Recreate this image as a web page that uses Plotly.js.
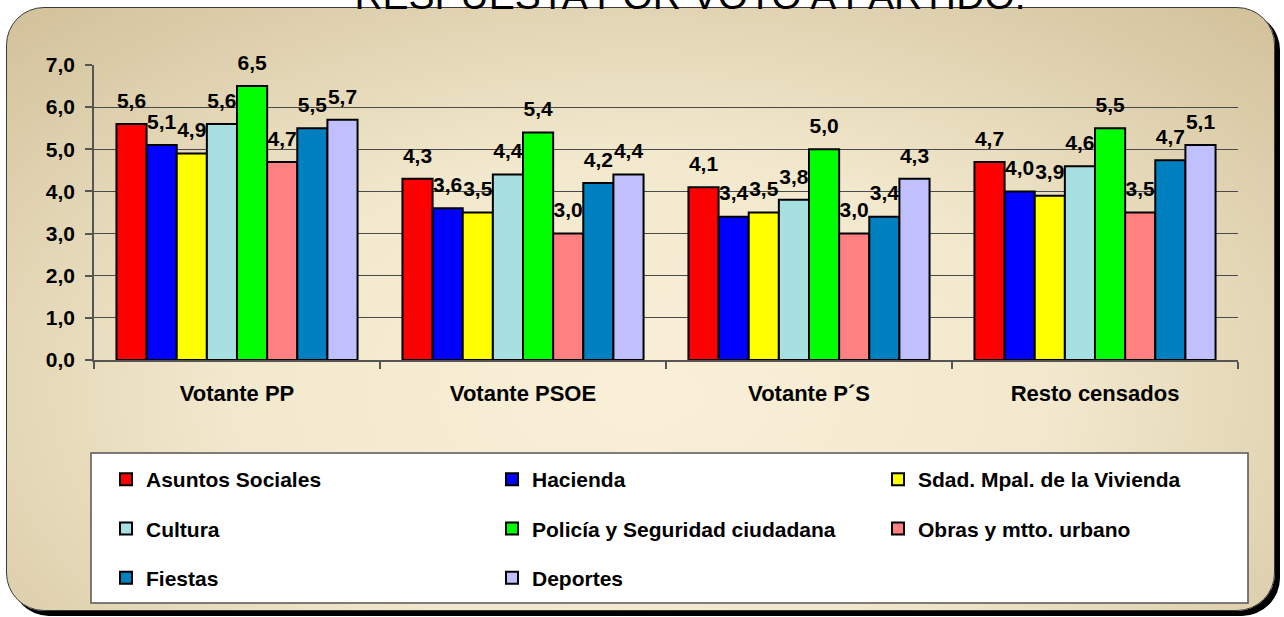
<!DOCTYPE html>
<html>
<head>
<meta charset="utf-8">
<script src="https://cdn.plot.ly/plotly-3.0.1.min.js"></script>
<style>
  html, body { margin:0; padding:0; background:#ffffff; width:1284px; height:617px; overflow:hidden; }
  #frame {
    position:absolute; left:6px; top:7px; width:1267px; height:602px;
    border:1px solid #3a3a3a; border-radius:38px;
    background: radial-gradient(ellipse 72% 88% at 50% 64%, #faf0d8 0%, #f2e8cd 45%, #d2c19a 100%);
    box-shadow: 5px 5px 0 #000;
  }
  #chart { position:absolute; left:0; top:0; width:1284px; height:617px; }
</style>
</head>
<body>
<div id="frame"></div>
<div id="chart"></div>
<script>
// ---- data ----
const categories = ["Votante PP", "Votante PSOE", "Votante P´S", "Resto censados"];
const seriesNames = ["Asuntos Sociales", "Hacienda", "Sdad. Mpal. de la Vivienda", "Cultura",
  "Policía y Seguridad ciudadana", "Obras y mtto. urbano", "Fiestas", "Deportes"];
const asuntosSociales = [5.6, 4.3, 4.1, 4.7];
const hacienda        = [5.1, 3.6, 3.4, 4.0];
const sdadVivienda    = [4.9, 3.5, 3.5, 3.9];
const cultura         = [5.6, 4.4, 3.8, 4.6];
const policia         = [6.5, 5.4, 5.0, 5.5];
const obras           = [4.7, 3.0, 3.0, 3.5];
const fiestas         = [5.5, 4.2, 3.4, 4.74];
const deportes        = [5.7, 4.4, 4.3, 5.1];
const yTicks = [0, 1, 2, 3, 4, 5, 6, 7];

const seriesValues = [asuntosSociales, hacienda, sdadVivienda, cultura, policia, obras, fiestas, deportes];
const colors = ["#ff0000", "#0000ff", "#ffff00", "#a6e0e0", "#00ff00", "#ff8080", "#0080c0", "#c0c0ff"];
// legend column each series belongs to (column-major layout as in the reference)
const legendCol = ["legend", "legend2", "legend3", "legend", "legend2", "legend3", "legend", "legend2"];

// ---- geometry helpers (pixels -> paper) ----
const W = 1284, H = 617;
const L = 94, R = 1238, T = 65, B = 360;
const px = x => (x - L) / (R - L);
const py = y => (B - y) / (B - T);

const font = "Arial, 'Liberation Sans', sans-serif";

const barTraces = seriesValues.map((vals, i) => ({
  type: "bar",
  name: seriesNames[i],
  x: categories,
  y: vals,
  marker: { color: colors[i], line: { color: "#000000", width: 2 } },
  legend: legendCol[i],
  legendgroup: "g" + i,
  hoverinfo: "x+y+name"
}));

// value labels: grouped scatter text sitting above each bar
const labelTraces = seriesValues.map((vals, i) => ({
  type: "scatter",
  mode: "markers+text",
  x: categories,
  y: vals,
  marker: { size: 16, opacity: 0, color: colors[i] },
  texttemplate: "%{y:.1f}",
  textposition: "top center",
  textfont: { family: font, size: 21, color: "#000000", weight: "bold" },
  cliponaxis: false,
  showlegend: false,
  legendgroup: "g" + i,
  hoverinfo: "skip"
}));

const legendBase = {
  font: { family: font, size: 21, color: "#000000", weight: "bold" },
  bgcolor: "rgba(0,0,0,0)",
  borderwidth: 0,
  xanchor: "left",
  yanchor: "top",
  xref: "paper",
  yref: "paper",
  tracegroupgap: 19,
  itemclick: false,
  itemdoubleclick: false
};

const layout = {
  width: W, height: H,
  margin: { l: L, r: W - R, t: T, b: H - B },
  paper_bgcolor: "rgba(0,0,0,0)",
  plot_bgcolor: "rgba(0,0,0,0)",
  separators: ",.",
  barmode: "group",
  bargap: 0.157,
  bargroupgap: 0,
  scattermode: "group",
  scattergap: 0.157,
  title: {
    text: "RESPUESTA POR VOTO A PARTIDO:",
    font: { family: font, size: 39, color: "#000000" },
    xref: "container", yref: "container",
    x: 690 / W, xanchor: "center",
    y: 1 - 9 / H, yanchor: "bottom"
  },
  xaxis: {
    type: "category",
    showline: true, linecolor: "#555555", linewidth: 1.5,
    ticks: "outside", tickson: "boundaries", ticklen: 7, tickcolor: "#555555", tickwidth: 1.5,
    tickfont: { family: font, size: 22, color: "#000000", weight: "bold" },
    ticklabelstandoff: 13,
    showgrid: false, zeroline: false, fixedrange: true
  },
  yaxis: {
    range: [0, 7],
    tickvals: yTicks,
    tickformat: ".1f",
    showline: true, linecolor: "#555555", linewidth: 1.5,
    ticks: "outside", ticklen: 7, tickcolor: "#555555", tickwidth: 1.5,
    tickfont: { family: font, size: 21, color: "#000000", weight: "bold" },
    ticklabelstandoff: 6,
    showgrid: true, gridcolor: "#4a4a4a", gridwidth: 1.2,
    zeroline: false, fixedrange: true
  },
  shapes: [{
    type: "rect", xref: "paper", yref: "paper", layer: "below",
    x0: px(91), x1: px(1248), y0: py(603), y1: py(453),
    fillcolor: "#ffffff", line: { color: "#555555", width: 1.5 }
  }],
  legend:  Object.assign({}, legendBase, { x: px(106), y: py(459) }),
  legend2: Object.assign({}, legendBase, { x: px(492), y: py(459) }),
  legend3: Object.assign({}, legendBase, { x: px(878), y: py(459) }),
  showlegend: true
};

Plotly.newPlot("chart", barTraces.concat(labelTraces), layout, { displayModeBar: false, responsive: false });
</script>
</body>
</html>
